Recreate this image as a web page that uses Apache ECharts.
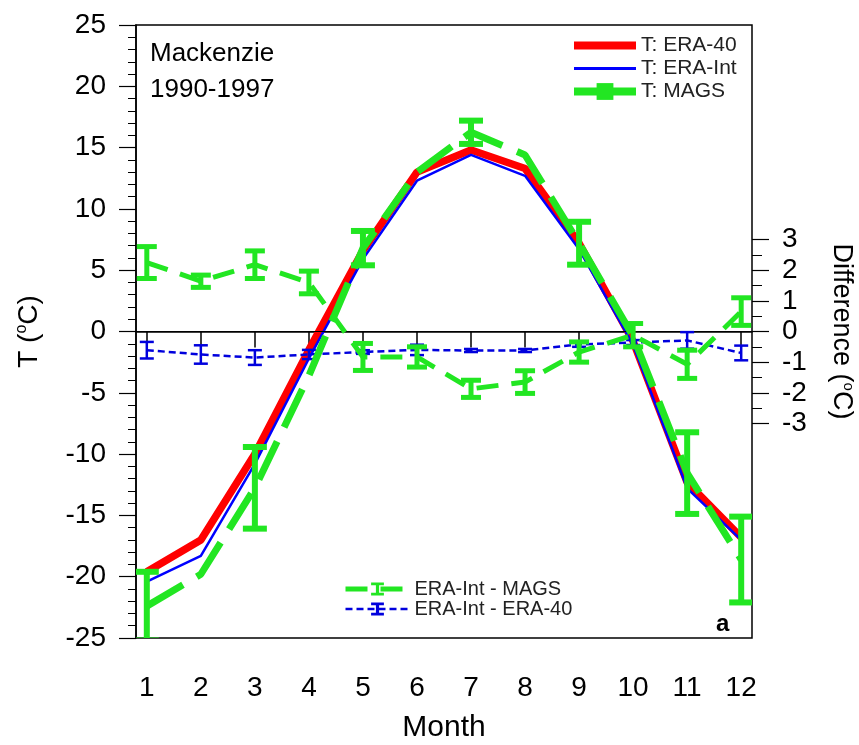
<!DOCTYPE html>
<html>
<head>
<meta charset="utf-8">
<script src="https://cdn.jsdelivr.net/npm/echarts@6.0.0/dist/echarts.min.js"></script>
<style>
  html, body { margin: 0; padding: 0; background: #fff; }
  #chart { width: 859px; height: 745px; }
</style>
</head>
<body>
<div id="chart"></div>
<script>
const FONT = "'Liberation Sans', Arial, sans-serif";

const months = [1, 2, 3, 4, 5, 6, 7, 8, 9, 10, 11, 12];

// monthly mean temperature (left axis, degC)
const tEra40 = [-19.6, -17.0, -10.0, -1.5, 6.6, 13.0, 14.8, 13.3, 7.2, -0.8, -12.3, -16.8];
const tEraInt = [-20.4, -18.3, -10.8, -2.2, 5.9, 12.3, 14.4, 12.7, 6.7, -1.1, -12.8, -17.0];
const tMags = [-22.4, -19.8, -12.75, -3.6, 6.8, 13.0, 16.25, 14.4, 7.2, -0.4, -11.55, -18.6];
const tMagsErr = [2.8, null, 3.33, null, 1.4, null, 0.95, null, 1.75, null, 3.33, 3.5];

// differences (right axis, degC)
const dIntMags = [2.25, 1.64, 2.18, 1.6, -0.83, -0.83, -1.87, -1.65, -0.67, -0.12, -1.07, 0.65];
const dIntMagsErr = [0.52, 0.2, 0.45, 0.37, 0.44, 0.33, 0.28, 0.37, 0.33, 0.38, 0.46, 0.45];
const dIntEra40 = [-0.61, -0.75, -0.85, -0.75, -0.67, -0.6, -0.62, -0.62, -0.42, -0.36, -0.29, -0.7];
const dIntEra40Err = [0.27, 0.3, 0.24, 0.15, 0.06, 0.17, 0.05, 0.05, 0.08, 0.08, 0.27, 0.24];

const diffTicks = [-3, -2, -1, 0, 1, 2, 3];
const diffMinorTicks = [-2.5, -1.5, -0.5, 0.5, 1.5, 2.5];

const GREEN = "#22e622";
const RED = "#ff0000";
const BLUE = "#0000ff";
const DBLUE = "#0000dd";
const I_BAR = "path://M0,0H12V3H7.5V11H12V14H0V11H4.5V3H0Z";

function pairs(values) {
  return months.map((m, i) => [m, values[i]]);
}

function errorBars(name, yAxisIndex, values, errs, color, width, capHalf, z) {
  const data = [];
  months.forEach((m, i) => {
    if (errs[i] != null) data.push([m, values[i], errs[i]]);
  });
  return {
    name,
    type: "custom",
    yAxisIndex,
    z,
    silent: true,
    clip: true,
    data,
    encode: { x: 0, y: 1 },
    renderItem: (params, api) => {
      const x = api.value(0);
      const y = api.value(1);
      const e = api.value(2);
      const top = api.coord([x, y + e]);
      const bot = api.coord([x, y - e]);
      const style = { stroke: color, lineWidth: width, fill: null };
      return {
        type: "group",
        children: [
          { type: "line", shape: { x1: top[0], y1: top[1], x2: bot[0], y2: bot[1] }, style },
          { type: "line", shape: { x1: top[0] - capHalf, y1: top[1], x2: top[0] + capHalf, y2: top[1] }, style },
          { type: "line", shape: { x1: bot[0] - capHalf, y1: bot[1], x2: bot[0] + capHalf, y2: bot[1] }, style }
        ]
      };
    }
  };
}

const chart = echarts.init(document.getElementById("chart"), null, { renderer: "canvas" });

chart.setOption({
  animation: false,
  backgroundColor: "#fff",
  textStyle: { fontFamily: FONT },
  title: [
    {
      text: "Mackenzie\n1990-1997",
      left: 145,
      top: 31,
      textStyle: { fontFamily: FONT, fontSize: 26, fontWeight: "normal", color: "#000", lineHeight: 36 }
    },
    {
      text: "a",
      left: 711,
      top: 607,
      textStyle: { fontFamily: FONT, fontSize: 24, fontWeight: "bold", color: "#000" }
    }
  ],
  legend: [
    {
      orient: "vertical",
      left: 570,
      top: 35,
      padding: 0,
      itemWidth: 62,
      itemHeight: 21,
      itemGap: 2,
      selectedMode: false,
      textStyle: { fontFamily: FONT, fontSize: 21, color: "#222", lineHeight: 21 },
      data: [
        { name: "T: ERA-40", itemStyle: { opacity: 0 }, lineStyle: { width: 8 } },
        { name: "T: ERA-Int", itemStyle: { opacity: 0 }, lineStyle: { width: 3 } },
        { name: "T: MAGS", lineStyle: { width: 8, type: "solid" } }
      ]
    },
    {
      orient: "vertical",
      left: 343,
      top: 579,
      padding: 0,
      itemWidth: 64,
      itemHeight: 16,
      itemGap: 0,
      selectedMode: false,
      textStyle: { fontFamily: FONT, fontSize: 20, color: "#222", lineHeight: 18 },
      data: [
        { name: "ERA-Int - MAGS", lineStyle: { width: 5 } },
        { name: "ERA-Int - ERA-40", lineStyle: { width: 2.5 } }
      ]
    }
  ],
  grid: {
    left: 136,
    right: 107,
    top: 25,
    bottom: 107,
    outerBoundsMode: "none",
    containLabel: false,
    show: true,
    borderColor: "#000",
    borderWidth: 1.5,
    backgroundColor: "transparent"
  },
  xAxis: {
    type: "value",
    min: 0.8,
    max: 12.2,
    name: "Month",
    nameLocation: "middle",
    nameGap: 75,
    nameTextStyle: { fontFamily: FONT, fontSize: 30, color: "#000" },
    axisLine: { show: true, lineStyle: { color: "#000", width: 1.5 } },
    axisTick: { show: true, inside: false, length: 16, customValues: months, lineStyle: { color: "#000", width: 1.5 } },
    axisLabel: { customValues: months, margin: 36, fontSize: 28, color: "#000", fontFamily: FONT },
    splitLine: { show: false }
  },
  yAxis: [
    {
      type: "value",
      min: -25,
      max: 25,
      interval: 5,
      name: "{a|T (}{b|o}{a|C)}",
      nameLocation: "middle",
      nameRotate: 90,
      nameGap: 92,
      nameTextStyle: {
        rich: {
          a: { fontFamily: FONT, fontSize: 28, color: "#000", lineHeight: 30 },
          b: { fontFamily: FONT, fontSize: 16, color: "#000", verticalAlign: "top", lineHeight: 30 }
        }
      },
      axisLine: { show: true, lineStyle: { color: "#000", width: 1.5 } },
      axisTick: { show: true, inside: false, length: 17, lineStyle: { color: "#000", width: 1.2 } },
      minorTick: { show: true, splitNumber: 5, length: 8, lineStyle: { color: "#000", width: 1 } },
      axisLabel: { margin: 30, fontSize: 28, color: "#000", fontFamily: FONT },
      splitLine: { show: false },
      minorSplitLine: { show: false }
    },
    {
      type: "value",
      position: "right",
      min: -10,
      max: 10,
      name: "{a|Difference (}{b|o}{a|C)}",
      nameLocation: "middle",
      nameRotate: -90,
      nameGap: 74,
      nameTextStyle: {
        rich: {
          a: { fontFamily: FONT, fontSize: 27, color: "#000", lineHeight: 30 },
          b: { fontFamily: FONT, fontSize: 15, color: "#000", verticalAlign: "top", lineHeight: 30 }
        }
      },
      axisLine: { show: false },
      axisTick: { show: true, inside: false, length: 17, customValues: diffTicks, lineStyle: { color: "#000", width: 1.2 } },
      axisLabel: { customValues: diffTicks, margin: 30, fontSize: 28, color: "#000", fontFamily: FONT },
      splitLine: { show: false }
    },
    {
      type: "value",
      position: "right",
      min: -10,
      max: 10,
      axisLine: { show: false },
      axisTick: { show: true, inside: false, length: 10, customValues: diffMinorTicks, lineStyle: { color: "#000", width: 1 } },
      axisLabel: { show: false },
      splitLine: { show: false }
    }
  ],
  series: [
    {
      name: "T: ERA-40",
      type: "line",
      z: 3,
      symbol: "none",
      data: pairs(tEra40),
      lineStyle: { color: RED, width: 7.5 },
      itemStyle: { color: RED },
      markLine: {
        silent: true,
        symbol: "none",
        label: { show: false },
        lineStyle: { color: "#000", width: 1.2, type: "solid" },
        data: [{ yAxis: 0 }]
      }
    },
    {
      name: "T: ERA-Int",
      type: "line",
      z: 4,
      symbol: "none",
      data: pairs(tEraInt),
      lineStyle: { color: BLUE, width: 2.5 },
      itemStyle: { color: BLUE }
    },
    {
      name: "ERA-Int - ERA-40",
      type: "line",
      yAxisIndex: 1,
      z: 5,
      symbol: I_BAR,
      showSymbol: false,
      data: pairs(dIntEra40),
      lineStyle: { color: DBLUE, width: 2.5, type: [7, 4] },
      itemStyle: { color: DBLUE }
    },
    errorBars("ERA-Int - ERA-40 bars", 1, dIntEra40, dIntEra40Err, DBLUE, 2.5, 7, 5),
    {
      name: "ERA-Int - MAGS",
      type: "line",
      yAxisIndex: 1,
      z: 6,
      symbol: I_BAR,
      showSymbol: false,
      data: pairs(dIntMags),
      lineStyle: { color: GREEN, width: 5, type: [22, 13] },
      itemStyle: { color: GREEN }
    },
    errorBars("ERA-Int - MAGS bars", 1, dIntMags, dIntMagsErr, GREEN, 5, 10, 6),
    {
      name: "T: MAGS",
      type: "line",
      z: 7,
      symbol: "rect",
      showSymbol: false,
      data: pairs(tMags),
      lineStyle: { color: GREEN, width: 7, type: [42, 16] },
      itemStyle: { color: GREEN }
    },
    errorBars("T: MAGS bars", 0, tMags, tMagsErr, GREEN, 6, 12, 7)
  ]
});
</script>
</body>
</html>
